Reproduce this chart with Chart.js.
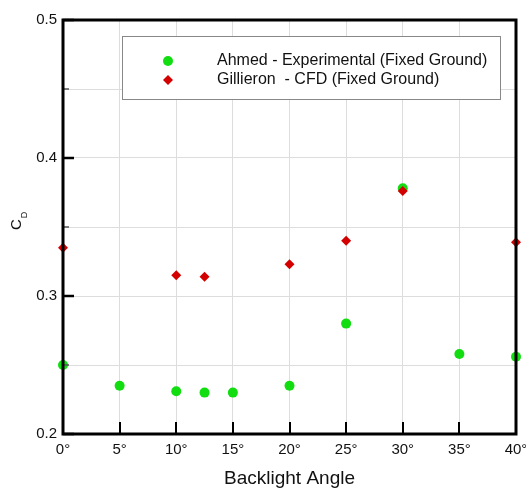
<!DOCTYPE html>
<html>
<head>
<meta charset="utf-8">
<script src="https://cdn.jsdelivr.net/npm/chart.js@4/dist/chart.umd.min.js"></script>
<style>
  html, body { margin: 0; padding: 0; background: #fff; }
  canvas { display: block; }
</style>
</head>
<body>
<canvas id="chart" width="526" height="489"></canvas>
<script>
// angles (deg) and drag coefficients
const ahmedAngles = [0, 5, 10, 12.5, 15, 20, 25, 30, 35, 40];
const ahmedCd = [0.250, 0.235, 0.231, 0.230, 0.230, 0.235, 0.280, 0.378, 0.258, 0.256];
const gillieronAngles = [0, 10, 12.5, 20, 25, 30, 40];
const gillieronCd = [0.335, 0.315, 0.314, 0.323, 0.340, 0.376, 0.339];
const seriesLabels = ['Ahmed - Experimental (Fixed Ground)', 'Gillieron  - CFD (Fixed Ground)'];
const yLabelTicks = [0.2, 0.3, 0.4, 0.5];
const xTitle = 'Backlight Angle';

const FONT = '"Liberation Sans", Arial, sans-serif';

const toPoints = (xs, ys) => xs.map((x, i) => ({ x, y: ys[i] }));

// frame, inward ticks, legend box and the C_D title
const extras = {
  id: 'extras',
  afterDraw(chart) {
    const { ctx, chartArea: a, scales } = chart;
    const xs = scales.x, ys = scales.y;
    ctx.save();

    // inward ticks
    ctx.strokeStyle = '#000';
    ctx.lineWidth = 2;
    for (let v = 0; v <= 40; v += 5) {
      const px = Math.round(xs.getPixelForValue(v));
      ctx.beginPath(); ctx.moveTo(px, a.bottom); ctx.lineTo(px, a.bottom - 12); ctx.stroke();
    }
    for (let v = 0.2; v <= 0.5001; v += 0.05) {
      const py = Math.round(ys.getPixelForValue(v));
      const major = yLabelTicks.some(t => Math.abs(t - v) < 1e-6);
      ctx.lineWidth = major ? 2.5 : 1.5;
      ctx.strokeStyle = major ? '#000' : '#555';
      ctx.beginPath(); ctx.moveTo(a.left, py); ctx.lineTo(a.left + (major ? 11 : 6), py); ctx.stroke();
    }

    // frame
    ctx.strokeStyle = '#000';
    ctx.lineWidth = 3;
    ctx.strokeRect(a.left, a.top, a.right - a.left, a.bottom - a.top);

    // legend
    const lx = 122, ly = 36, lw = 378, lh = 63;
    ctx.fillStyle = '#fff';
    ctx.fillRect(lx, ly, lw, lh);
    ctx.lineWidth = 1;
    ctx.strokeStyle = '#888';
    ctx.strokeRect(lx + 0.5, ly + 0.5, lw, lh);
    chart.data.datasets.forEach((ds, i) => {
      const cy = 61 + i * 19;
      ctx.fillStyle = ds.backgroundColor;
      ctx.beginPath();
      if (ds.pointStyle === 'rectRot') {
        const r = 5;
        ctx.moveTo(168, cy - r); ctx.lineTo(168 + r, cy); ctx.lineTo(168, cy + r); ctx.lineTo(168 - r, cy);
        ctx.closePath();
      } else {
        ctx.arc(168, cy, 5, 0, Math.PI * 2);
      }
      ctx.fill();
      ctx.fillStyle = '#111';
      ctx.font = '16px ' + FONT;
      ctx.textAlign = 'left';
      ctx.textBaseline = 'middle';
      ctx.fillText(ds.label, 217, cy);
    });

    // y axis title C_D
    ctx.translate(17, 230);
    ctx.rotate(-Math.PI / 2);
    ctx.fillStyle = '#111';
    ctx.textBaseline = 'middle';
    ctx.textAlign = 'left';
    ctx.font = '15px ' + FONT;
    ctx.fillText('C', 0, 0);
    const cw = ctx.measureText('C').width;
    ctx.font = '9px ' + FONT;
    ctx.fillText('D', cw + 1, 8);
    ctx.restore();
  }
};

new Chart(document.getElementById('chart'), {
  type: 'scatter',
  data: {
    datasets: [
      {
        label: seriesLabels[0],
        data: toPoints(ahmedAngles, ahmedCd),
        backgroundColor: '#11dd11',
        borderColor: '#11dd11',
        pointStyle: 'circle',
        pointRadius: 5,
        borderWidth: 0,
        order: 1
      },
      {
        label: seriesLabels[1],
        data: toPoints(gillieronAngles, gillieronCd),
        backgroundColor: '#d40000',
        borderColor: '#d40000',
        pointStyle: 'rectRot',
        pointRadius: 5,
        borderWidth: 0,
        order: 0
      }
    ]
  },
  options: {
    responsive: false,
    animation: false,
    clip: false,
    layout: { padding: { top: 20, right: 10, left: 0, bottom: 0 } },
    plugins: { legend: { display: false }, tooltip: { enabled: false } },
    scales: {
      x: {
        type: 'linear',
        min: 0,
        max: 40,
        afterFit(scale) { scale.height = 55; scale.paddingRight = 0; },
        ticks: {
          stepSize: 5,
          padding: 7,
          color: '#111',
          font: { family: FONT, size: 15 },
          callback: v => v + '°'
        },
        grid: { color: '#dddddd', lineWidth: 1, drawTicks: false },
        border: { display: false },
        title: {
          display: true,
          text: xTitle,
          color: '#111',
          font: { family: FONT, size: 19 },
          padding: { top: 16, bottom: -1 }
        }
      },
      y: {
        type: 'linear',
        min: 0.2,
        max: 0.5,
        afterFit(scale) { scale.width = 63; },
        ticks: {
          stepSize: 0.05,
          padding: 6,
          color: '#111',
          font: { family: FONT, size: 15 },
          callback: v => yLabelTicks.some(t => Math.abs(t - v) < 1e-6) ? v.toFixed(1) : ''
        },
        grid: { color: '#dddddd', lineWidth: 1, drawTicks: false },
        border: { display: false }
      }
    }
  },
  plugins: [extras]
});
</script>
</body>
</html>
